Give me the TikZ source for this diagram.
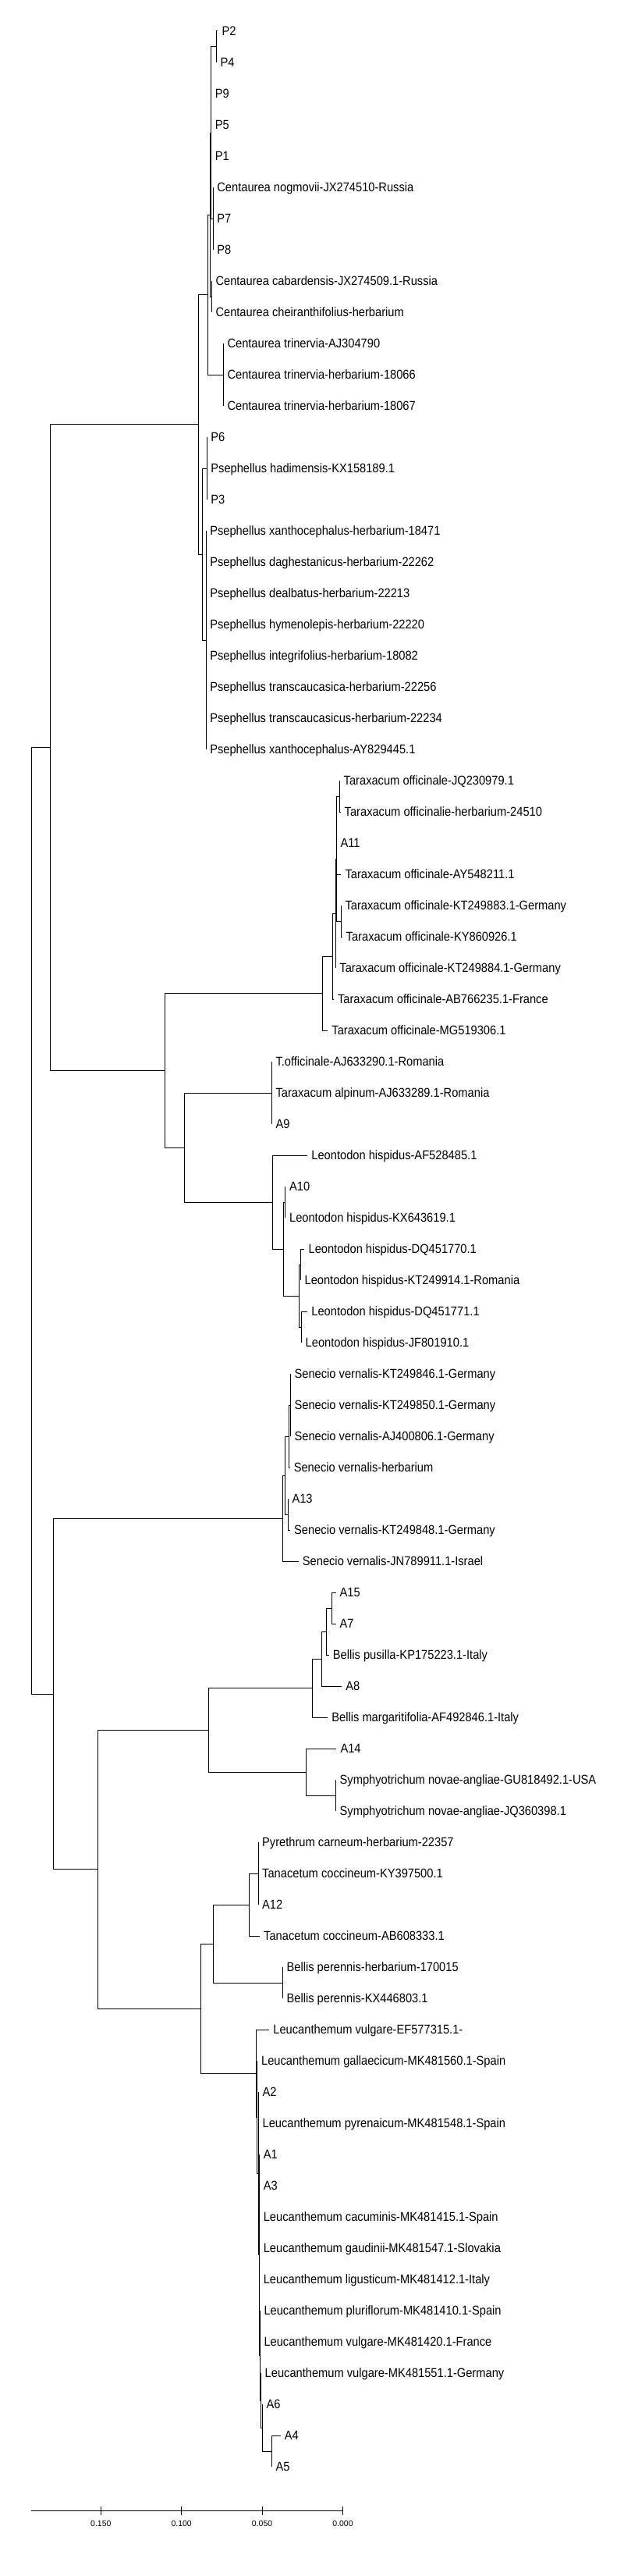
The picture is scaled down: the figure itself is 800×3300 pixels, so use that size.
\documentclass[tikz,border=0pt]{standalone}
\usepackage{fontspec}
\newfontfamily\treefont[FakeStretch=0.9]{Liberation Sans}
\newfontfamily\axisfont{Liberation Sans}

\begin{document}
\begin{tikzpicture}[x=1pt, y=-1pt,
   leaf_style/.style={anchor=west, inner xsep=5pt, inner ysep=0pt, text height=11.6pt, text depth=0pt, font=\treefont\fontsize{16.3}{18}\selectfont},
   branch_style/.style={draw=black, line width=1pt},
   scale_style/.style={inner sep=0pt, font=\axisfont\fontsize{10.5}{12}\selectfont}]

    \path[fill=white] (0,0) rectangle (800,3300);
    \useasboundingbox (0,0) rectangle (800,3300);

    \coordinate (r0) at (40.6,1563);
    \coordinate (r1) at (64.3,957);
    \coordinate (c_root) at (254.5,543.5);
    \coordinate (c_all) at (266.7,377);
    \coordinate (n_a) at (269.4,275);
    \coordinate (n_top) at (270.6,170);
    \coordinate (n_p24) at (277.5,60);
    \coordinate (n_nog) at (273.2,280);
    \coordinate (n_cab) at (271.3,380);
    \coordinate (n_tri) at (286.3,480);
    \coordinate (ps_all) at (259.1,710);
    \coordinate (n_p6) at (265.2,600);
    \coordinate (n_ps) at (264.1,820);
    \coordinate (tl) at (211.3,1371);
    \coordinate (tarax) at (413.3,1272.5);
    \coordinate (t_sub) at (426.7,1225);
    \coordinate (t_b) at (430.2,1170);
    \coordinate (t_a) at (431.3,1100);
    \coordinate (t_q) at (435.5,1020);
    \coordinate (t_k) at (437.4,1180);
    \coordinate (l_all) at (236.5,1470);
    \coordinate (t_two) at (348.3,1400);
    \coordinate (leo) at (349.4,1540);
    \coordinate (leo_b) at (363.6,1600);
    \coordinate (leo_c) at (365.9,1540);
    \coordinate (leo_d) at (383.5,1660);
    \coordinate (leo_e) at (385.4,1620);
    \coordinate (leo_f) at (386.5,1700);
    \coordinate (r2) at (68.5,2170);
    \coordinate (sen) at (362.4,1945);
    \coordinate (sen_b) at (365.5,1890);
    \coordinate (sen_c) at (370.8,1840);
    \coordinate (sen_d) at (372.4,1800);
    \coordinate (sen_e) at (369.3,1940);
    \coordinate (b_root) at (125.5,2394.5);
    \coordinate (b_all) at (267.1,2216);
    \coordinate (bel) at (400.3,2162);
    \coordinate (bel_b) at (412.6,2125);
    \coordinate (bel_c) at (418.3,2090);
    \coordinate (bel_d) at (425.6,2060);
    \coordinate (sym) at (392.3,2270);
    \coordinate (sym_b) at (430.5,2300);
    \coordinate (leu_all) at (257.6,2573);
    \coordinate (tb) at (273.2,2490);
    \coordinate (tan) at (319.9,2440);
    \coordinate (tan_b) at (331,2400);
    \coordinate (bp) at (362.4,2540);
    \coordinate (leu) at (328.7,2656);
    \coordinate (leu_b) at (329.9,2712);
    \coordinate (leu_c) at (331.4,2784);
    \coordinate (leu_d) at (332.6,2888);
    \coordinate (leu_e) at (333.3,3017);
    \coordinate (leu_f) at (334.5,3075);
    \coordinate (leu_g) at (336.4,3110);
    \coordinate (leu_h) at (348.3,3140);

    \node[leaf_style] (p2) at (279.4,40) {P2};
    \node[leaf_style] (p4) at (277.5,80) {P4};
    \node[leaf_style] (p9) at (270.6,120) {P9};
    \node[leaf_style] (p5) at (270.6,160) {P5};
    \node[leaf_style] (p1) at (270.6,200) {P1};
    \node[leaf_style] (cnog) at (273.2,240) {Centaurea nogmovii-JX274510-Russia};
    \node[leaf_style] (p7) at (273.2,280) {P7};
    \node[leaf_style] (p8) at (273.2,320) {P8};
    \node[leaf_style] (ccab) at (271.3,360) {Centaurea cabardensis-JX274509.1-Russia};
    \node[leaf_style] (cche) at (271.3,400) {Centaurea cheiranthifolius-herbarium};
    \node[leaf_style] (ctri_a) at (286.3,440) {Centaurea trinervia-AJ304790};
    \node[leaf_style] (ctri_b) at (286.3,480) {Centaurea trinervia-herbarium-18066};
    \node[leaf_style] (ctri_c) at (286.3,520) {Centaurea trinervia-herbarium-18067};
    \node[leaf_style] (p6) at (265.2,560) {P6};
    \node[leaf_style] (phad) at (265.2,600) {Psephellus hadimensis-KX158189.1};
    \node[leaf_style] (p3) at (265.2,640) {P3};
    \node[leaf_style] (pxan_a) at (264.1,680) {Psephellus xanthocephalus-herbarium-18471};
    \node[leaf_style] (pdag) at (264.1,720) {Psephellus daghestanicus-herbarium-22262};
    \node[leaf_style] (pdea) at (264.1,760) {Psephellus dealbatus-herbarium-22213};
    \node[leaf_style] (phym) at (264.1,800) {Psephellus hymenolepis-herbarium-22220};
    \node[leaf_style] (pint) at (264.1,840) {Psephellus integrifolius-herbarium-18082};
    \node[leaf_style] (ptra_a) at (264.1,880) {Psephellus transcaucasica-herbarium-22256};
    \node[leaf_style] (ptra_b) at (264.1,920) {Psephellus transcaucasicus-herbarium-22234};
    \node[leaf_style] (pxan_b) at (264.1,960) {Psephellus xanthocephalus-AY829445.1};
    \node[leaf_style] (toff_a) at (435.5,1000) {Taraxacum officinale-JQ230979.1};
    \node[leaf_style] (toff_b) at (436.5,1040) {Taraxacum officinalie-herbarium-24510};
    \node[leaf_style] (a11) at (431.3,1080) {A11};
    \node[leaf_style] (toff_c) at (437.4,1120) {Taraxacum officinale-AY548211.1};
    \node[leaf_style] (toff_d) at (437.4,1160) {Taraxacum officinale-KT249883.1-Germany};
    \node[leaf_style] (toff_e) at (438.5,1200) {Taraxacum officinale-KY860926.1};
    \node[leaf_style] (toff_f) at (430.2,1240) {Taraxacum officinale-KT249884.1-Germany};
    \node[leaf_style] (toff_g) at (427.9,1280) {Taraxacum officinale-AB766235.1-France};
    \node[leaf_style] (toff_h) at (420.2,1320) {Taraxacum officinale-MG519306.1};
    \node[leaf_style] (toff_i) at (348.3,1360) {T.officinale-AJ633290.1-Romania};
    \node[leaf_style] (talp) at (348.3,1400) {Taraxacum alpinum-AJ633289.1-Romania};
    \node[leaf_style] (a9) at (348.3,1440) {A9};
    \node[leaf_style] (lhis_a) at (394.2,1480) {Leontodon hispidus-AF528485.1};
    \node[leaf_style] (a10) at (365.9,1520) {A10};
    \node[leaf_style] (lhis_b) at (365.9,1560) {Leontodon hispidus-KX643619.1};
    \node[leaf_style] (lhis_c) at (390.4,1600) {Leontodon hispidus-DQ451770.1};
    \node[leaf_style] (lhis_d) at (385.4,1640) {Leontodon hispidus-KT249914.1-Romania};
    \node[leaf_style] (lhis_e) at (394.2,1680) {Leontodon hispidus-DQ451771.1};
    \node[leaf_style] (lhis_f) at (386.5,1720) {Leontodon hispidus-JF801910.1};
    \node[leaf_style] (sver_a) at (372.4,1760) {Senecio vernalis-KT249846.1-Germany};
    \node[leaf_style] (sver_b) at (372.4,1800) {Senecio vernalis-KT249850.1-Germany};
    \node[leaf_style] (sver_c) at (372.4,1840) {Senecio vernalis-AJ400806.1-Germany};
    \node[leaf_style] (sver_d) at (371.6,1880) {Senecio vernalis-herbarium};
    \node[leaf_style] (a13) at (369.3,1920) {A13};
    \node[leaf_style] (sver_e) at (372,1960) {Senecio vernalis-KT249848.1-Germany};
    \node[leaf_style] (sver_f) at (382.7,2000) {Senecio vernalis-JN789911.1-Israel};
    \node[leaf_style] (a15) at (430.5,2040) {A15};
    \node[leaf_style] (a7) at (430.5,2080) {A7};
    \node[leaf_style] (bpus) at (421.7,2120) {Bellis pusilla-KP175223.1-Italy};
    \node[leaf_style] (a8) at (438.2,2160) {A8};
    \node[leaf_style] (bmar) at (420.2,2200) {Bellis margaritifolia-AF492846.1-Italy};
    \node[leaf_style] (a14) at (431.3,2240) {A14};
    \node[leaf_style] (snov_a) at (430.5,2280) {Symphyotrichum novae-angliae-GU818492.1-USA};
    \node[leaf_style] (snov_b) at (430.5,2320) {Symphyotrichum novae-angliae-JQ360398.1};
    \node[leaf_style] (pcar) at (331,2360) {Pyrethrum carneum-herbarium-22357};
    \node[leaf_style] (tcoc_a) at (331,2400) {Tanacetum coccineum-KY397500.1};
    \node[leaf_style] (a12) at (331,2440) {A12};
    \node[leaf_style] (tcoc_b) at (333,2480) {Tanacetum coccineum-AB608333.1};
    \node[leaf_style] (bper_a) at (362.4,2520) {Bellis perennis-herbarium-170015};
    \node[leaf_style] (bper_b) at (362.4,2560) {Bellis perennis-KX446803.1};
    \node[leaf_style] (lvul_a) at (345.2,2600) {Leucanthemum vulgare-EF577315.1-};
    \node[leaf_style] (lgal) at (329.9,2640) {Leucanthemum gallaecicum-MK481560.1-Spain};
    \node[leaf_style] (a2) at (331.4,2680) {A2};
    \node[leaf_style] (lpyr) at (331.4,2720) {Leucanthemum pyrenaicum-MK481548.1-Spain};
    \node[leaf_style] (a1) at (332.6,2760) {A1};
    \node[leaf_style] (a3) at (332.6,2800) {A3};
    \node[leaf_style] (lcac) at (332.6,2840) {Leucanthemum cacuminis-MK481415.1-Spain};
    \node[leaf_style] (lgau) at (332.6,2880) {Leucanthemum gaudinii-MK481547.1-Slovakia};
    \node[leaf_style] (llig) at (332.6,2920) {Leucanthemum ligusticum-MK481412.1-Italy};
    \node[leaf_style] (lplu) at (333.3,2960) {Leucanthemum pluriflorum-MK481410.1-Spain};
    \node[leaf_style] (lvul_b) at (333.3,3000) {Leucanthemum vulgare-MK481420.1-France};
    \node[leaf_style] (lvul_c) at (334.5,3040) {Leucanthemum vulgare-MK481551.1-Germany};
    \node[leaf_style] (a6) at (336.4,3080) {A6};
    \node[leaf_style] (a4) at (359.7,3120) {A4};
    \node[leaf_style] (a5) at (348.3,3160) {A5};

    \draw[branch_style] (r0) |- (r1);
    \draw[branch_style] (r0) |- (r2);
    \draw[branch_style] (r1) |- (c_root);
    \draw[branch_style] (r1) |- (tl);
    \draw[branch_style] (c_root) |- (c_all);
    \draw[branch_style] (c_root) |- (ps_all);
    \draw[branch_style] (c_all) |- (n_a);
    \draw[branch_style] (c_all) |- (n_tri);
    \draw[branch_style] (n_a) |- (n_top);
    \draw[branch_style] (n_a) |- (n_cab);
    \draw[branch_style] (n_top) |- (n_p24);
    \draw[branch_style] (n_top) |- (p9.west);
    \draw[branch_style] (n_top) |- (p5.west);
    \draw[branch_style] (n_top) |- (p1.west);
    \draw[branch_style] (n_top) |- (n_nog);
    \draw[branch_style] (n_p24) |- (p2.west);
    \draw[branch_style] (n_p24) |- (p4.west);
    \draw[branch_style] (n_nog) |- (cnog.west);
    \draw[branch_style] (n_nog) |- (p7.west);
    \draw[branch_style] (n_nog) |- (p8.west);
    \draw[branch_style] (n_cab) |- (ccab.west);
    \draw[branch_style] (n_cab) |- (cche.west);
    \draw[branch_style] (n_tri) |- (ctri_a.west);
    \draw[branch_style] (n_tri) |- (ctri_b.west);
    \draw[branch_style] (n_tri) |- (ctri_c.west);
    \draw[branch_style] (ps_all) |- (n_p6);
    \draw[branch_style] (ps_all) |- (n_ps);
    \draw[branch_style] (n_p6) |- (p6.west);
    \draw[branch_style] (n_p6) |- (phad.west);
    \draw[branch_style] (n_p6) |- (p3.west);
    \draw[branch_style] (n_ps) |- (pxan_a.west);
    \draw[branch_style] (n_ps) |- (pdag.west);
    \draw[branch_style] (n_ps) |- (pdea.west);
    \draw[branch_style] (n_ps) |- (phym.west);
    \draw[branch_style] (n_ps) |- (pint.west);
    \draw[branch_style] (n_ps) |- (ptra_a.west);
    \draw[branch_style] (n_ps) |- (ptra_b.west);
    \draw[branch_style] (n_ps) |- (pxan_b.west);
    \draw[branch_style] (tl) |- (tarax);
    \draw[branch_style] (tl) |- (l_all);
    \draw[branch_style] (tarax) |- (t_sub);
    \draw[branch_style] (tarax) |- (toff_h.west);
    \draw[branch_style] (t_sub) |- (t_b);
    \draw[branch_style] (t_sub) |- (toff_g.west);
    \draw[branch_style] (t_b) |- (t_a);
    \draw[branch_style] (t_b) |- (toff_f.west);
    \draw[branch_style] (t_a) |- (t_q);
    \draw[branch_style] (t_a) |- (a11.west);
    \draw[branch_style] (t_a) |- (toff_c.west);
    \draw[branch_style] (t_a) |- (t_k);
    \draw[branch_style] (t_q) |- (toff_a.west);
    \draw[branch_style] (t_q) |- (toff_b.west);
    \draw[branch_style] (t_k) |- (toff_d.west);
    \draw[branch_style] (t_k) |- (toff_e.west);
    \draw[branch_style] (l_all) |- (t_two);
    \draw[branch_style] (l_all) |- (leo);
    \draw[branch_style] (t_two) |- (toff_i.west);
    \draw[branch_style] (t_two) |- (talp.west);
    \draw[branch_style] (t_two) |- (a9.west);
    \draw[branch_style] (leo) |- (lhis_a.west);
    \draw[branch_style] (leo) |- (leo_b);
    \draw[branch_style] (leo_b) |- (leo_c);
    \draw[branch_style] (leo_b) |- (leo_d);
    \draw[branch_style] (leo_c) |- (a10.west);
    \draw[branch_style] (leo_c) |- (lhis_b.west);
    \draw[branch_style] (leo_d) |- (leo_e);
    \draw[branch_style] (leo_d) |- (leo_f);
    \draw[branch_style] (leo_e) |- (lhis_c.west);
    \draw[branch_style] (leo_e) |- (lhis_d.west);
    \draw[branch_style] (leo_f) |- (lhis_e.west);
    \draw[branch_style] (leo_f) |- (lhis_f.west);
    \draw[branch_style] (r2) |- (sen);
    \draw[branch_style] (r2) |- (b_root);
    \draw[branch_style] (sen) |- (sen_b);
    \draw[branch_style] (sen) |- (sver_f.west);
    \draw[branch_style] (sen_b) |- (sen_c);
    \draw[branch_style] (sen_b) |- (sen_e);
    \draw[branch_style] (sen_c) |- (sen_d);
    \draw[branch_style] (sen_c) |- (sver_d.west);
    \draw[branch_style] (sen_d) |- (sver_a.west);
    \draw[branch_style] (sen_d) |- (sver_b.west);
    \draw[branch_style] (sen_d) |- (sver_c.west);
    \draw[branch_style] (sen_e) |- (a13.west);
    \draw[branch_style] (sen_e) |- (sver_e.west);
    \draw[branch_style] (b_root) |- (b_all);
    \draw[branch_style] (b_root) |- (leu_all);
    \draw[branch_style] (b_all) |- (bel);
    \draw[branch_style] (b_all) |- (sym);
    \draw[branch_style] (bel) |- (bel_b);
    \draw[branch_style] (bel) |- (bmar.west);
    \draw[branch_style] (bel_b) |- (bel_c);
    \draw[branch_style] (bel_b) |- (a8.west);
    \draw[branch_style] (bel_c) |- (bel_d);
    \draw[branch_style] (bel_c) |- (bpus.west);
    \draw[branch_style] (bel_d) |- (a15.west);
    \draw[branch_style] (bel_d) |- (a7.west);
    \draw[branch_style] (sym) |- (a14.west);
    \draw[branch_style] (sym) |- (sym_b);
    \draw[branch_style] (sym_b) |- (snov_a.west);
    \draw[branch_style] (sym_b) |- (snov_b.west);
    \draw[branch_style] (leu_all) |- (tb);
    \draw[branch_style] (leu_all) |- (leu);
    \draw[branch_style] (tb) |- (tan);
    \draw[branch_style] (tb) |- (bp);
    \draw[branch_style] (tan) |- (tan_b);
    \draw[branch_style] (tan) |- (tcoc_b.west);
    \draw[branch_style] (tan_b) |- (pcar.west);
    \draw[branch_style] (tan_b) |- (tcoc_a.west);
    \draw[branch_style] (tan_b) |- (a12.west);
    \draw[branch_style] (bp) |- (bper_a.west);
    \draw[branch_style] (bp) |- (bper_b.west);
    \draw[branch_style] (leu) |- (lvul_a.west);
    \draw[branch_style] (leu) |- (leu_b);
    \draw[branch_style] (leu_b) |- (lgal.west);
    \draw[branch_style] (leu_b) |- (leu_c);
    \draw[branch_style] (leu_c) |- (a2.west);
    \draw[branch_style] (leu_c) |- (lpyr.west);
    \draw[branch_style] (leu_c) |- (leu_d);
    \draw[branch_style] (leu_d) |- (a1.west);
    \draw[branch_style] (leu_d) |- (a3.west);
    \draw[branch_style] (leu_d) |- (lcac.west);
    \draw[branch_style] (leu_d) |- (lgau.west);
    \draw[branch_style] (leu_d) |- (llig.west);
    \draw[branch_style] (leu_d) |- (leu_e);
    \draw[branch_style] (leu_e) |- (lplu.west);
    \draw[branch_style] (leu_e) |- (lvul_b.west);
    \draw[branch_style] (leu_e) |- (leu_f);
    \draw[branch_style] (leu_f) |- (lvul_c.west);
    \draw[branch_style] (leu_f) |- (leu_g);
    \draw[branch_style] (leu_g) |- (a6.west);
    \draw[branch_style] (leu_g) |- (leu_h);
    \draw[branch_style] (leu_h) |- (a4.west);
    \draw[branch_style] (leu_h) |- (a5.west);

    \coordinate (ax_l) at (40.2,3216);
    \coordinate (ax_r) at (439.5,3216);
    \draw[branch_style] (ax_l) -- (ax_r);
    \draw[branch_style] (129.3,3210.5) -- (129.3,3221.5);
    \draw[branch_style] (232.7,3210.5) -- (232.7,3221.5);
    \draw[branch_style] (336.1,3210.5) -- (336.1,3221.5);
    \draw[branch_style] (439.5,3210.5) -- (439.5,3221.5);
    \node[scale_style] (s150) at (129.3,3233) {0.150};
    \node[scale_style] (s100) at (232.7,3233) {0.100};
    \node[scale_style] (s050) at (336.1,3233) {0.050};
    \node[scale_style] (s000) at (439.5,3233) {0.000};
    \end{tikzpicture}
\end{document}
